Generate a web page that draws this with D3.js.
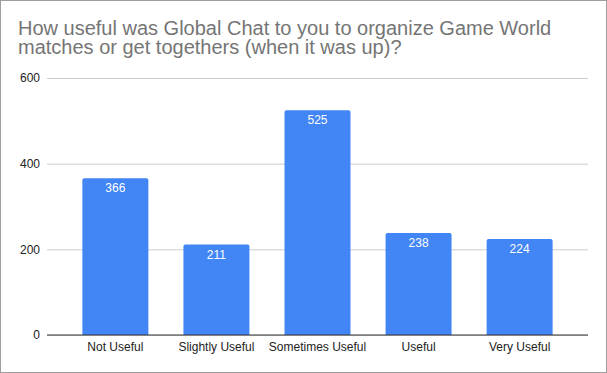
<!DOCTYPE html>
<html>
<head>
<meta charset="utf-8">
<script src="https://cdn.jsdelivr.net/npm/d3@7"></script>
<style>
  body { margin: 0; background: #fff; }
  svg { display: block; }
</style>
</head>
<body>
<div id="chart-area"></div>
<script>
// data
var categories = ['Not Useful', 'Slightly Useful', 'Sometimes Useful', 'Useful', 'Very Useful'];
var counts = [366, 211, 525, 238, 224];
var yTicks = [0, 200, 400, 600];
var titleLines = ['How useful was Global Chat to you to organize Game World',
                  'matches or get togethers (when it was up)?'];

var svgWidth = 607;
var svgHeight = 373;
var margin = {left: 47, right: 19, top: 78, bottom: 38};
var width = svgWidth - margin.left - margin.right;
var height = svgHeight - margin.top - margin.bottom;
var font = 'Liberation Sans, Arial, sans-serif';

var svg = d3.select('#chart-area')
            .append('svg')
            .attr('width', svgWidth)
            .attr('height', svgHeight);

// outer frame
svg.append('rect')
   .attr('x', 0.5).attr('y', 0.5)
   .attr('width', svgWidth - 1).attr('height', svgHeight - 1)
   .attr('fill', '#fff')
   .attr('stroke', '#9e9e9e');

// title
svg.append('text')
   .attr('font-family', font)
   .attr('font-size', 20)
   .attr('fill', '#757575')
   .selectAll('tspan')
   .data(titleLines)
   .enter().append('tspan')
   .attr('x', 18)
   .attr('y', (d, i) => 35 + i * 19)
   .text(d => d);

var g = svg.append('g')
           .attr('transform', 'translate(' + margin.left + ',' + margin.top + ')');

var xScale = d3.scaleBand()
               .domain(categories)
               .range([0, width])
               .paddingInner(0.347)
               .paddingOuter(0.35);

var yScale = d3.scaleLinear()
               .domain([0, 600])
               .range([height, 0]);

// gridlines
var yAxis = d3.axisLeft(yScale)
              .tickValues(yTicks)
              .tickSize(-width)
              .tickPadding(7);

var yg = g.append('g').call(yAxis);
yg.select('.domain').remove();
yg.selectAll('line').attr('stroke', '#cccccc');
yg.selectAll('text')
  .attr('font-family', font)
  .attr('font-size', 12)
  .attr('fill', '#222');

// bars with slightly rounded top corners
function barPath(x, y, w, h, r) {
    return 'M' + x + ',' + (y + h) +
           'V' + (y + r) +
           'Q' + x + ',' + y + ' ' + (x + r) + ',' + y +
           'H' + (x + w - r) +
           'Q' + (x + w) + ',' + y + ' ' + (x + w) + ',' + (y + r) +
           'V' + (y + h) + 'Z';
}

var data = categories.map((c, i) => ({cat: c, val: counts[i]}));

g.selectAll('path.bar')
 .data(data)
 .enter().append('path')
 .attr('class', 'bar')
 .attr('d', d => barPath(xScale(d.cat), yScale(d.val), xScale.bandwidth(), height - yScale(d.val), 2))
 .attr('fill', '#4285f4');

g.selectAll('text.val')
 .data(data)
 .enter().append('text')
 .attr('class', 'val')
 .attr('x', d => xScale(d.cat) + xScale.bandwidth() / 2)
 .attr('y', d => yScale(d.val) + 14)
 .attr('text-anchor', 'middle')
 .attr('font-family', font)
 .attr('font-size', 12)
 .attr('fill', '#fff')
 .text(d => d.val);

// x axis
var xAxis = d3.axisBottom(xScale).tickSize(0).tickPadding(7);
var xg = g.append('g')
          .attr('transform', 'translate(0,' + height + ')')
          .call(xAxis);
xg.select('.domain').attr('stroke', '#333').attr('d', 'M0,0H' + width);
xg.selectAll('text')
  .attr('font-family', font)
  .attr('font-size', 12)
  .attr('fill', '#222');
</script>
</body>
</html>
